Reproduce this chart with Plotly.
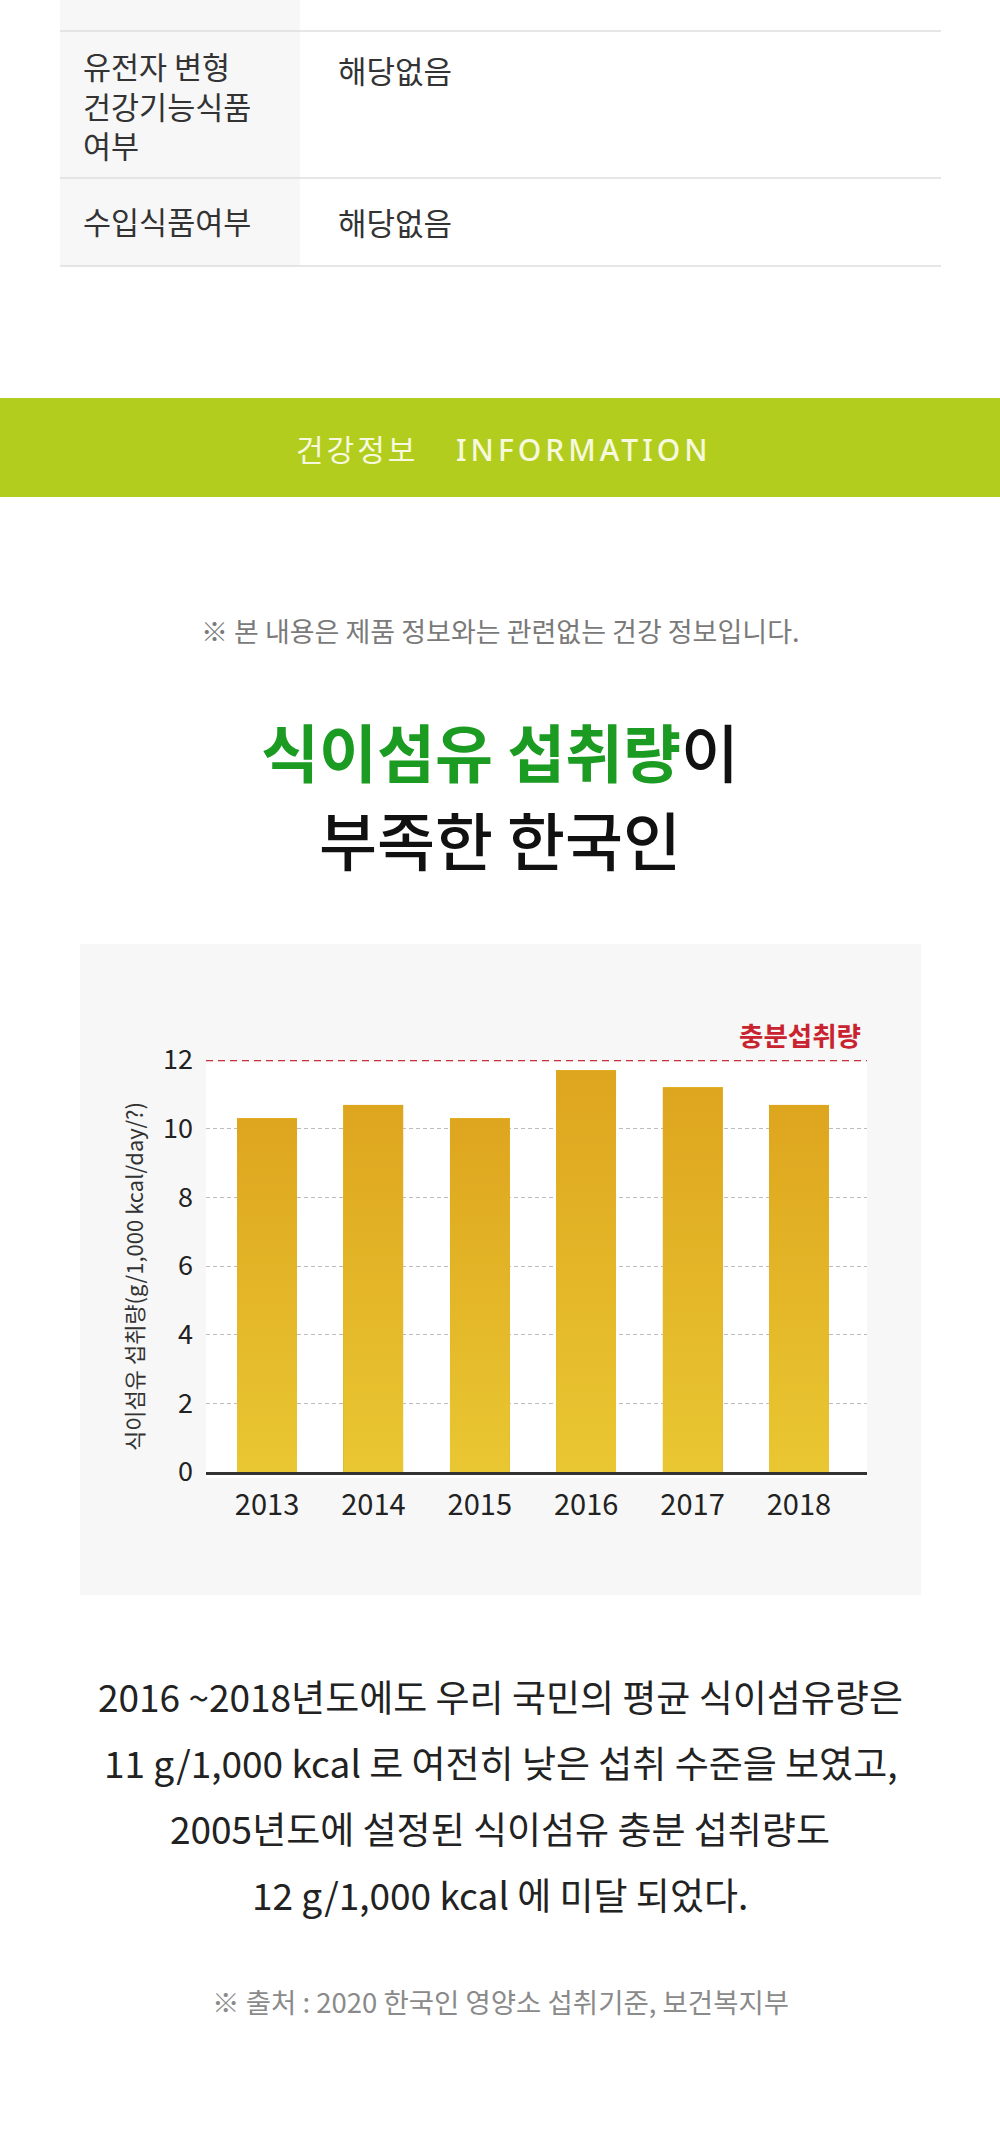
import base64
import plotly.graph_objects as go

# ---------------- data ----------------
years = ["2013", "2014", "2015", "2016", "2017", "2018"]
fiber_intake = [10.3, 10.7, 10.3, 11.7, 11.2, 10.7]
adequate_intake = 12
adequate_label = "충분섭취량"
y_ticks = [0, 2, 4, 6, 8, 10, 12]
y_title = "식이섬유 섭취량(g/1,000 kcal/day/?)"

table_rows = [
    (["유전자 변형", "건강기능식품", "여부"], "해당없음"),
    (["수입식품여부"], "해당없음"),
]
banner_kr = "건강정보"
banner_en = "INFORMATION"
notice = "※ 본 내용은 제품 정보와는 관련없는 건강 정보입니다."
title_green = "식이섬유 섭취량"
title_rest = "이"
title_line2 = "부족한 한국인"
body_lines = [
    "2016 ~2018년도에도 우리 국민의 평균 식이섬유량은",
    "11 g/1,000 kcal 로 여전히 낮은 섭취 수준을 보였고,",
    "2005년도에 설정된 식이섬유 충분 섭취량도",
    "12 g/1,000 kcal 에 미달 되었다.",
]
source = "※ 출처 : 2020 한국인 영양소 섭취기준, 보건복지부"

# ---------------- layout helpers ----------------
W, H = 1000, 2141
KR = "Noto Sans CJK KR"


def px(x):
    return x / W


def py(y):
    return 1 - y / H


fig = go.Figure()

bar_width = 0.565
fig.add_trace(go.Bar(
    x=list(range(len(years))), y=fiber_intake,
    width=bar_width,
    marker=dict(color="#E3B426", line=dict(width=0)),
    hoverinfo="skip",
    showlegend=False,
))

# gradient overlay for each bar (placed via data axes)
svg = ('<svg xmlns="http://www.w3.org/2000/svg" width="10" height="100" viewBox="0 0 10 100" '
       'preserveAspectRatio="none"><defs><linearGradient id="g" x1="0" y1="0" x2="0" y2="1">'
       '<stop offset="0" stop-color="#DEA51E"/><stop offset="1" stop-color="#E9C732"/>'
       '</linearGradient></defs><rect width="10" height="100" fill="url(#g)"/></svg>')
grad_src = "data:image/svg+xml;base64," + base64.b64encode(svg.encode()).decode()
images = []
for i, v in enumerate(fiber_intake):
    images.append(dict(source=grad_src, xref="x", yref="y", x=i - bar_width / 2, y=v,
                       sizex=bar_width, sizey=v, xanchor="left", yanchor="top",
                       sizing="stretch", layer="above"))

shapes = []
# table left column background
shapes.append(dict(type="rect", xref="paper", yref="paper", x0=px(60), x1=px(300),
                   y0=py(266), y1=py(0), fillcolor="#F7F7F7", line=dict(width=0), layer="below"))
for yy in [31, 178, 266]:
    shapes.append(dict(type="line", xref="paper", yref="paper", x0=px(60), x1=px(941),
                       y0=py(yy), y1=py(yy), line=dict(color="#DEDEDE", width=1.5)))
# banner
shapes.append(dict(type="rect", xref="paper", yref="paper", x0=0, x1=1,
                   y0=py(497), y1=py(398), fillcolor="#B2CD1E", line=dict(width=0), layer="below"))
# chart panel
shapes.append(dict(type="rect", xref="paper", yref="paper", x0=px(80), x1=px(921),
                   y0=py(1595), y1=py(944), fillcolor="#F7F7F7", line=dict(width=0), layer="below"))
shapes.append(dict(type="rect", xref="paper", yref="paper", x0=px(206), x1=px(867),
                   y0=py(1478), y1=py(1062), fillcolor="#FFFFFF", line=dict(width=0), layer="below"))
# adequate intake line
shapes.append(dict(type="line", xref="paper", yref="y", x0=px(206), x1=px(867),
                   y0=adequate_intake, y1=adequate_intake,
                   line=dict(color="#C92F3D", width=2.5, dash="7px,5px")))

ann = []


def text(x, y, s, size, color, xanchor="center", weight="normal", family=KR, angle=0):
    ann.append(dict(x=px(x), y=py(y), xref="paper", yref="paper", text=s, showarrow=False,
                    xanchor=xanchor, yanchor="middle", textangle=angle, align="left",
                    font=dict(family=family, size=size, color=color, weight=weight)))


# table texts (multi-line label as one text block)
row_centers = [105, 221]
for (labels, val), cy in zip(table_rows, row_centers):
    text(81, cy, "<br>".join(labels), 30.5, "#333333", xanchor="left")
text(336, 69, table_rows[0][1], 31, "#333333", xanchor="left")
text(336, 221, table_rows[1][1], 31, "#333333", xanchor="left")

# banner texts
text(294, 448, f"<span style='letter-spacing:3px'>{banner_kr}</span>", 30, "#F6F9DE",
     xanchor="left")
text(454, 449, f"<span style='letter-spacing:4px'>{banner_en}</span>", 30, "#F6F9DE",
     xanchor="left", family="Noto Sans", weight=500)

# notice
text(500, 630, notice, 27, "#7A7A7A")

# title
text(500, 749,
     f"<span style='color:#1C9B22;font-weight:bold'>{title_green}</span>"
     f"<span style='font-weight:500'>{title_rest}</span>", 63, "#111111")
text(500, 837, title_line2, 63, "#111111", weight=500)

# chart label + axis title
text(863, 1034, f"<b>{adequate_label}</b>", 26.5, "#C8232F", xanchor="right")
text(133, 1277, y_title, 22, "#333333", angle=-90)

# body
for s, cy in zip(body_lines, [1696, 1762, 1828, 1894]):
    text(500, cy, s, 37, "#222222")
text(500, 2001, source, 27.5, "#8A8A8A")

fig.update_layout(
    width=W, height=H, margin=dict(l=0, r=0, t=0, b=0, pad=0, autoexpand=False),
    paper_bgcolor="#FFFFFF", plot_bgcolor="#FFFFFF",
    shapes=shapes, annotations=ann, images=images,
    bargap=0, showlegend=False,
    font=dict(family=KR),
    xaxis=dict(domain=[px(206), px(867)], range=[-0.574, 5.64], automargin=False,
               tickmode="array", tickvals=list(range(len(years))), ticktext=years,
               tickfont=dict(size=29, color="#222222", family=KR),
               showgrid=False, zeroline=False, showline=True, linecolor="#333333",
               linewidth=2.5, ticks="", ticklabelstandoff=5, fixedrange=True),
    yaxis=dict(domain=[py(1472), py(1060)], range=[0, 12], automargin=False,
               tickmode="array", tickvals=y_ticks,
               tickfont=dict(size=27, color="#222222", family=KR),
               showgrid=True, gridcolor="#BDBDBD", gridwidth=1, griddash="4px,3px",
               zeroline=False, showline=False, ticks="", ticklabelstandoff=12,
               fixedrange=True),
)

fig.write_html("out.html")
